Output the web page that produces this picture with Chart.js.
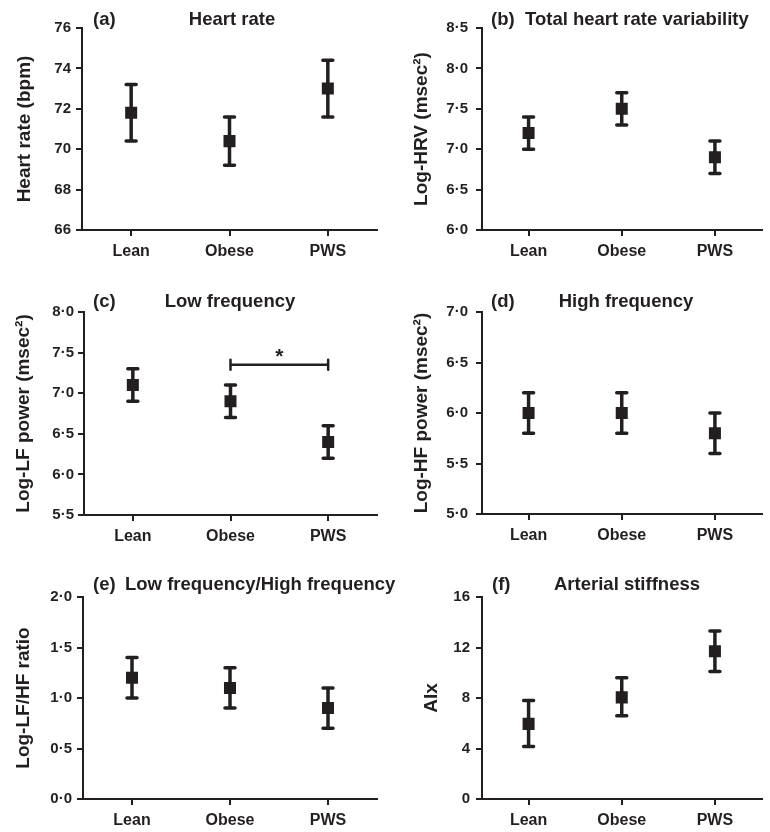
<!DOCTYPE html>
<html>
<head>
<meta charset="utf-8">
<script src="https://cdn.jsdelivr.net/npm/chart.js@4"></script>
<style>
  html, body { margin: 0; padding: 0; background: #fff; }
  #wrap { position: relative; width: 770px; height: 832px; }
  #wrap canvas { position: absolute; left: 0; top: 0; }
</style>
</head>
<body>
<div id="wrap">
  <canvas id="pa" width="770" height="832"></canvas>
  <canvas id="pb" width="770" height="832"></canvas>
  <canvas id="pc" width="770" height="832"></canvas>
  <canvas id="pd" width="770" height="832"></canvas>
  <canvas id="pe" width="770" height="832"></canvas>
  <canvas id="pf" width="770" height="832"></canvas>
</div>
<script>
const groups = ['Lean', 'Obese', 'PWS'];

// (a) heart rate
const hrMean = [71.8, 70.4, 73.0];
const hrLow  = [70.4, 69.2, 71.6];
const hrHigh = [73.2, 71.6, 74.4];
const hrTicks = [66, 68, 70, 72, 74, 76];

// (b) total HRV
const hrvMean = [7.2, 7.5, 6.9];
const hrvLow  = [7.0, 7.3, 6.7];
const hrvHigh = [7.4, 7.7, 7.1];
const hrvTicks = [6.0, 6.5, 7.0, 7.5, 8.0, 8.5];

// (c) low frequency
const lfMean = [7.1, 6.9, 6.4];
const lfLow  = [6.9, 6.7, 6.2];
const lfHigh = [7.3, 7.1, 6.6];
const lfTicks = [5.5, 6.0, 6.5, 7.0, 7.5, 8.0];
const lfSig = { from: 1, to: 2, level: 7.35, mark: '*' };

// (d) high frequency
const hfMean = [6.0, 6.0, 5.8];
const hfLow  = [5.8, 5.8, 5.6];
const hfHigh = [6.2, 6.2, 6.0];
const hfTicks = [5.0, 5.5, 6.0, 6.5, 7.0];

// (e) LF/HF ratio
const ratioMean = [1.2, 1.1, 0.9];
const ratioLow  = [1.0, 0.9, 0.7];
const ratioHigh = [1.4, 1.3, 1.1];
const ratioTicks = [0.0, 0.5, 1.0, 1.5, 2.0];

// (f) arterial stiffness
const aixMean = [5.95, 8.05, 11.7];
const aixLow  = [4.15, 6.6, 10.1];
const aixHigh = [7.8, 9.6, 13.3];
const aixTicks = [0, 4, 8, 12, 16];

const INK = '#231f20';
const FONT = '"Liberation Sans", Arial, Helvetica, sans-serif';

const panels = [
  { id: 'pa', tag: '(a)', title: 'Heart rate', yTitle: 'Heart rate (bpm)',
    mean: hrMean, low: hrLow, high: hrHigh, ticks: hrTicks, dec: 0,
    area: { left: 82, top: 28, right: 377, bottom: 230 }, yTitleX: 25,
    tagX: 93, titleX: 232, titleAlign: 'center', titleY: 20, tickPad: 5 },
  { id: 'pb', tag: '(b)', title: 'Total heart rate variability', yTitle: 'Log-HRV (msec\u00b2)',
    mean: hrvMean, low: hrvLow, high: hrvHigh, ticks: hrvTicks, dec: 1,
    area: { left: 482, top: 28, right: 770, bottom: 230 }, yTitleX: 422,
    tagX: 491, titleX: 525, titleAlign: 'left', titleY: 20, tickPad: 8 },
  { id: 'pc', tag: '(c)', title: 'Low frequency', yTitle: 'Log-LF power (msec\u00b2)',
    mean: lfMean, low: lfLow, high: lfHigh, ticks: lfTicks, dec: 1, sig: lfSig,
    area: { left: 84, top: 312, right: 377, bottom: 515 }, yTitleX: 24,
    tagX: 93, titleX: 230, titleAlign: 'center', titleY: 302, tickPad: 4 },
  { id: 'pd', tag: '(d)', title: 'High frequency', yTitle: 'Log-HF power (msec\u00b2)',
    mean: hfMean, low: hfLow, high: hfHigh, ticks: hfTicks, dec: 1,
    area: { left: 482, top: 312, right: 770, bottom: 514 }, yTitleX: 422,
    tagX: 491, titleX: 626, titleAlign: 'center', titleY: 302, tickPad: 8 },
  { id: 'pe', tag: '(e)', title: 'Low frequency/High frequency', yTitle: 'Log-LF/HF ratio',
    mean: ratioMean, low: ratioLow, high: ratioHigh, ticks: ratioTicks, dec: 1,
    area: { left: 83, top: 597, right: 377, bottom: 799 }, yTitleX: 24,
    tagX: 93, titleX: 125, titleAlign: 'left', titleY: 585, tickPad: 5 },
  { id: 'pf', tag: '(f)', title: 'Arterial stiffness', yTitle: 'AIx',
    mean: aixMean, low: aixLow, high: aixHigh, ticks: aixTicks, dec: 0,
    area: { left: 482, top: 597, right: 770, bottom: 799 }, yTitleX: 432,
    tagX: 492, titleX: 627, titleAlign: 'center', titleY: 585, tickPad: 6 }
];

const Y_TITLE_SIZE = 19;
const X_BOX = 30;

// error bars, significance bar and panel headings
const panelDecor = {
  id: 'panelDecor',
  beforeDatasetsDraw(chart, args, opts) {
    const p = opts.panel;
    const { ctx, scales: { x, y } } = chart;
    ctx.save();
    ctx.strokeStyle = INK;
    ctx.lineWidth = 3.5;
    ctx.lineCap = 'round';
    p.mean.forEach((m, i) => {
      const px = x.getPixelForValue(i);
      const yl = y.getPixelForValue(p.low[i]);
      const yh = y.getPixelForValue(p.high[i]);
      ctx.beginPath();
      ctx.moveTo(px, yl); ctx.lineTo(px, yh);
      ctx.moveTo(px - 5, yl); ctx.lineTo(px + 5, yl);
      ctx.moveTo(px - 5, yh); ctx.lineTo(px + 5, yh);
      ctx.stroke();
    });
    if (p.sig) {
      const x1 = x.getPixelForValue(p.sig.from);
      const x2 = x.getPixelForValue(p.sig.to);
      const yb = y.getPixelForValue(p.sig.level);
      ctx.lineWidth = 2.5;
      ctx.beginPath();
      ctx.moveTo(x1, yb); ctx.lineTo(x2, yb);
      ctx.moveTo(x1, yb - 5); ctx.lineTo(x1, yb + 5);
      ctx.moveTo(x2, yb - 5); ctx.lineTo(x2, yb + 5);
      ctx.stroke();
      ctx.fillStyle = INK;
      ctx.font = 'bold 21px ' + FONT;
      ctx.textAlign = 'center';
      ctx.textBaseline = 'alphabetic';
      ctx.fillText(p.sig.mark, (x1 + x2) / 2, yb - 2);
    }
    ctx.restore();
  },
  afterDraw(chart, args, opts) {
    const p = opts.panel;
    const ctx = chart.ctx;
    ctx.save();
    ctx.fillStyle = INK;
    ctx.font = 'bold 18.5px ' + FONT;
    ctx.textBaseline = 'middle';
    ctx.textAlign = 'left';
    ctx.fillText(p.tag, p.tagX, p.titleY);
    ctx.textAlign = p.titleAlign;
    ctx.fillText(p.title, p.titleX, p.titleY);
    ctx.restore();
  }
};

function fmt(v, dec) {
  return dec ? v.toFixed(dec).replace('.', '\u00b7') : String(v);
}

panels.forEach(p => {
  const padLeft = p.yTitleX - Y_TITLE_SIZE * 1.2 / 2;
  new Chart(document.getElementById(p.id), {
    type: 'line',
    data: {
      labels: groups,
      datasets: [{
        data: p.mean,
        showLine: false,
        pointStyle: 'rect',
        pointRadius: 8.5,
        pointHoverRadius: 8.5,
        pointBackgroundColor: INK,
        pointBorderWidth: 0
      }]
    },
    options: {
      responsive: false,
      animation: false,
      events: [],
      layout: {
        padding: {
          left: padLeft,
          top: p.area.top,
          right: 770 - p.area.right,
          bottom: 832 - p.area.bottom - X_BOX
        }
      },
      plugins: {
        legend: { display: false },
        tooltip: { enabled: false },
        panelDecor: { panel: p }
      },
      scales: {
        x: {
          type: 'category',
          offset: true,
          afterFit(scale) { scale.height = X_BOX; },
          grid: { display: true, drawOnChartArea: false, drawTicks: true, tickLength: 6, color: INK, lineWidth: 2, offset: false },
          border: { display: true, color: INK, width: 2 },
          ticks: { color: INK, padding: 6, maxRotation: 0, autoSkip: false, font: { family: FONT, size: 16, weight: 'bold' } }
        },
        y: {
          min: p.ticks[0],
          max: p.ticks[p.ticks.length - 1],
          afterFit(scale) { scale.width = p.area.left - padLeft; },
          afterBuildTicks(scale) { scale.ticks = p.ticks.map(v => ({ value: v })); },
          grid: { display: true, drawOnChartArea: false, drawTicks: true, tickLength: 6, color: INK, lineWidth: 2 },
          border: { display: true, color: INK, width: 2 },
          ticks: {
            color: INK, padding: p.tickPad,
            font: { family: FONT, size: 15, weight: 'bold' },
            callback: v => fmt(v, p.dec)
          },
          title: {
            display: true, text: p.yTitle, color: INK, padding: 0,
            font: { family: FONT, size: Y_TITLE_SIZE, weight: 'bold' }
          }
        }
      }
    },
    plugins: [panelDecor]
  });
});
</script>
</body>
</html>
